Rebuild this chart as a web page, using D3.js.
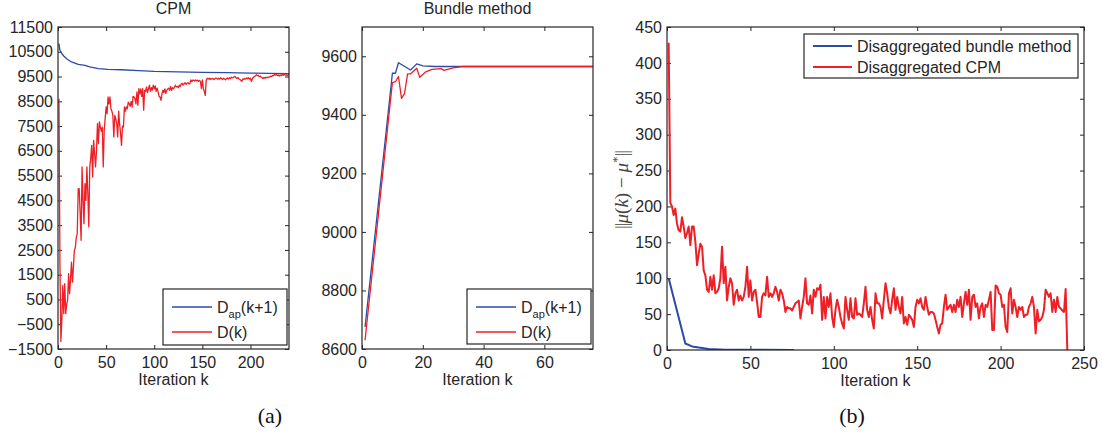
<!DOCTYPE html>
<html>
<head>
<meta charset="utf-8">
<script src="https://cdn.jsdelivr.net/npm/d3@7"></script>
<style>
  body { margin: 0; background: #fff; }
  svg text { font-family: "Liberation Sans", Arial, sans-serif; fill: #262626; }
</style>
</head>
<body>
<svg id="chart" width="1102" height="438"></svg>
<script>
// --- (a) left: CPM, dual value D(k) per iteration k = 1..240
const cpmD = [
  8600, 2000, -1200, -300, 1070, -70, 1140, -70, 300, 465,
  1540, 735, 1300, 2010, 1200, 1800, 2480, 2600, 3000, 3160,
  4970, 4970, 4000, 2890, 5850, 4500, 3560, 5175, 4500, 5850,
  4800, 3430, 5850, 6200, 6720, 5440, 6925, 6400, 5850, 6500,
  7600, 6790, 7665, 7460, 7300, 7460, 5850, 7330, 7800, 8270,
  8000, 8675, 8400, 8675, 8200, 8100, 7930, 7060, 7930, 7800,
  7600, 7060, 8100, 7600, 7200, 6720, 7500, 7460, 8270, 8100,
  8270, 8200, 8470, 8400, 8300, 8500, 8270, 8700, 8675, 8600,
  8400, 8880, 8340, 9010, 8800, 9000, 8700, 9010, 8140, 8945,
  8900, 9080, 8850, 9000, 9150, 8900, 9050, 8950, 9150, 9000,
  9120, 8900, 9030, 8880, 8700, 8675, 8540, 8800, 8945, 8850,
  9000, 8820, 8950, 9000, 9030, 8944, 9100, 8945, 9050, 9000,
  9080, 9150, 9080, 9100, 9050, 9150, 9100, 9200, 9230, 9150,
  9200, 9250, 9180, 9230, 9250, 9200, 9215, 9365, 9300, 9350,
  9350, 9320, 9365, 9330, 9350, 9310, 9340, 9300, 9010, 9365,
  9010, 8900, 8740, 9350, 9430, 9400, 9430, 9380, 9420, 9400,
  9420, 9380, 9410, 9440, 9420, 9390, 9430, 9400, 9450, 9410,
  9380, 9430, 9400, 9365, 9420, 9440, 9400, 9450, 9420, 9470,
  9440, 9460, 9485, 9500, 9450, 9420, 9460, 9400, 9380, 9350,
  9310, 9400, 9380, 9420, 9400, 9440, 9410, 9450, 9400, 9430,
  9300, 9420, 9460, 9500, 9520, 9570, 9540, 9550, 9500, 9520,
  9480, 9450, 9420, 9460, 9430, 9470, 9450, 9480, 9460, 9485,
  9520, 9500, 9550, 9540, 9580, 9560, 9580, 9540, 9560, 9520,
  9560, 9540, 9580, 9550, 9600, 9560, 9570, 9540, 9560, 9600
];
// smooth upper estimate D_ap(k+1), read at these iterations
const cpmDapIter = [1, 2, 4, 6, 9, 14, 21, 28, 33, 42, 52, 66, 84, 100, 125, 150, 175, 200, 220, 240];
const cpmDap = [10830, 10560, 10420, 10330, 10220, 10090, 9990, 9950, 9890, 9820, 9790, 9775, 9740, 9710, 9690, 9670, 9655, 9640, 9630, 9620];

// --- (a) right: bundle method
const bunDapIter = [1, 10, 11, 12, 16, 18, 20, 24, 76];
const bunDap = [8675, 9542, 9542, 9578, 9553, 9574, 9567, 9565, 9565];
const bunDIter = [1, 10, 11, 12, 13, 14, 15, 16, 18, 19, 21, 23, 26, 27, 30, 33, 76];
const bunD = [8630, 9510, 9513, 9531, 9456, 9473, 9540, 9540, 9559, 9528, 9547, 9555, 9558, 9552, 9560, 9565, 9565];

// --- (b): ||mu(k) - mu*||
const disBundleIter = [1, 11, 15, 19, 25, 35, 76];
const disBundle = [100, 9, 5, 3.5, 1.5, 0.5, 0];
// disaggregated CPM, k = 1..240
const disCpm = [
  428, 205, 200, 188, 197, 176, 167, 165, 185, 172,
  156, 163, 172, 146, 172, 172, 151, 118, 134, 148,
  144, 111, 104, 84, 81, 102, 84, 104, 79, 81,
  86, 100, 144, 93, 116, 69, 88, 100, 93, 63,
  79, 84, 69, 76, 69, 74, 88, 116, 74, 97,
  69, 81, 84, 67, 46, 46, 74, 79, 76, 102,
  74, 79, 74, 79, 88, 81, 69, 84, 79, 69,
  53, 60, 58, 58, 55, 60, 65, 67, 69, 44,
  60, 74, 100, 65, 63, 76, 51, 84, 74, 86,
  84, 91, 42, 74, 44, 74, 60, 79, 46, 32,
  56, 70, 60, 46, 37, 30, 74, 56, 42, 72,
  46, 44, 72, 49, 51, 49, 46, 65, 88, 56,
  46, 60, 42, 30, 79, 65, 65, 60, 44, 70,
  93, 79, 60, 51, 70, 86, 56, 74, 60, 51,
  74, 37, 46, 35, 49, 46, 42, 32, 60, 70,
  65, 72, 60, 56, 74, 60, 49, 53, 53, 51,
  42, 32, 23, 35, 37, 60, 77, 56, 60, 63,
  53, 63, 53, 70, 60, 74, 46, 65, 81, 63,
  84, 42, 74, 77, 60, 65, 44, 60, 65, 46,
  63, 60, 70, 81, 28, 28, 90, 88, 79, 77,
  60, 63, 32, 25, 79, 86, 51, 70, 60, 46,
  60, 56, 60, 46, 49, 49, 60, 65, 74, 60,
  23, 56, 40, 42, 46, 56, 84, 79, 74, 79,
  53, 70, 53, 74, 60, 58, 55, 53, 85, 0
];

const cpmYTicks = d3.range(-1500, 11501, 1000);
const cpmXTicks = [0, 50, 100, 150, 200];
const bunYTicks = [8600, 8800, 9000, 9200, 9400, 9600];
const bunXTicks = [0, 20, 40, 60];
const disYTicks = d3.range(0, 451, 50);
const disXTicks = [0, 50, 100, 150, 200, 250];

const BLUE = "#2c4ba8";
const RED = "#ee1f26";

const svg = d3.select("#chart");
const defs = svg.append("defs");

function zip(xs, ys) { return xs.map((x, i) => [x, ys[i]]); }
function byIndex(ys) { return ys.map((y, i) => [i + 1, y]); }

function panel(cfg) {
  const x = d3.scaleLinear().domain(cfg.xDomain).range([cfg.left, cfg.right]);
  const y = d3.scaleLinear().domain(cfg.yDomain).range([cfg.bottom, cfg.top]);
  const g = svg.append("g");
  const clipId = "clip-" + cfg.id;
  defs.append("clipPath").attr("id", clipId).append("rect")
    .attr("x", cfg.left).attr("y", cfg.top)
    .attr("width", cfg.right - cfg.left).attr("height", cfg.bottom - cfg.top);

  // axes, ticks pointing inwards, mirrored on top/right
  const styleAxis = a => {
    a.select(".domain").remove();
    a.selectAll("line").attr("stroke", "#262626");
    a.selectAll("text").attr("font-size", 16).attr("font-family", null).attr("fill", "#262626");
  };
  g.append("g").attr("transform", `translate(0,${cfg.bottom})`)
    .call(d3.axisBottom(x).tickValues(cfg.xTicks).tickSize(-4).tickPadding(8)).call(styleAxis);
  g.append("g").attr("transform", `translate(0,${cfg.top})`)
    .call(d3.axisTop(x).tickValues(cfg.xTicks).tickSize(-4).tickFormat("")).call(styleAxis);
  g.append("g").attr("transform", `translate(${cfg.left},0)`)
    .call(d3.axisLeft(y).tickValues(cfg.yTicks).tickSize(-4).tickPadding(5)
      .tickFormat(d => d < 0 ? "\u2212" + Math.abs(d) : d)).call(styleAxis);
  g.append("g").attr("transform", `translate(${cfg.right},0)`)
    .call(d3.axisRight(y).tickValues(cfg.yTicks).tickSize(-4).tickFormat("")).call(styleAxis);

  const line = d3.line().x(d => x(d[0])).y(d => y(d[1]));
  const lines = g.append("g").attr("clip-path", `url(#${clipId})`);
  cfg.series.forEach(s => {
    lines.append("path").datum(s.data)
      .attr("fill", "none").attr("stroke", s.color).attr("stroke-width", cfg.lw)
      .attr("stroke-linejoin", "round").attr("d", line);
  });

  g.append("rect").attr("x", cfg.left).attr("y", cfg.top)
    .attr("width", cfg.right - cfg.left).attr("height", cfg.bottom - cfg.top)
    .attr("fill", "none").attr("stroke", "#262626").attr("stroke-width", 1.2);

  if (cfg.title) {
    g.append("text").attr("x", (cfg.left + cfg.right) / 2).attr("y", 14)
      .attr("text-anchor", "middle").attr("font-size", 16).text(cfg.title);
  }
  g.append("text").attr("x", (cfg.left + cfg.right) / 2).attr("y", cfg.bottom + 36)
    .attr("text-anchor", "middle").attr("font-size", 16).text("Iteration k");

  // legend
  const L = cfg.legend;
  g.append("rect").attr("x", L.x).attr("y", L.y).attr("width", L.w).attr("height", L.h)
    .attr("fill", "#fff").attr("stroke", "#262626").attr("stroke-width", 1.2);
  cfg.series.forEach((s, i) => {
    const cy = L.y + L.row0 + i * L.step;
    g.append("line").attr("x1", L.x + L.lx0).attr("x2", L.x + L.lx1)
      .attr("y1", cy).attr("y2", cy).attr("stroke", s.color).attr("stroke-width", cfg.lw);
    const t = g.append("text").attr("x", L.x + L.tx).attr("y", cy + 6).attr("font-size", 16);
    s.label.forEach(part => {
      if (part.sub) {
        t.append("tspan").attr("dy", 5).attr("font-size", 11).text(part.t);
      } else {
        t.append("tspan").attr("dy", part.after ? -5 : 0).text(part.t);
      }
    });
  });
  return { x, y };
}

const dapLabel = [{ t: "D" }, { t: "ap", sub: true }, { t: "(k+1)", after: true }];
const dLabel = [{ t: "D(k)" }];

panel({
  id: "cpm", title: "CPM",
  left: 58, right: 289, top: 27, bottom: 349,
  xDomain: [0, 240], yDomain: [-1500, 11500],
  xTicks: cpmXTicks, yTicks: cpmYTicks, lw: 1.3,
  series: [
    { data: zip(cpmDapIter, cpmDap), color: BLUE, label: dapLabel },
    { data: byIndex(cpmD), color: RED, label: dLabel }
  ],
  legend: { x: 163, y: 289, w: 124, h: 56, row0: 18, step: 25, lx0: 9, lx1: 49, tx: 54 }
});

panel({
  id: "bundle", title: "Bundle method",
  left: 362, right: 593, top: 27, bottom: 349,
  xDomain: [0, 76], yDomain: [8600, 9700],
  xTicks: bunXTicks, yTicks: bunYTicks, lw: 1.3,
  series: [
    { data: zip(bunDapIter, bunDap), color: BLUE, label: dapLabel },
    { data: zip(bunDIter, bunD), color: RED, label: dLabel }
  ],
  legend: { x: 467, y: 289, w: 124, h: 55, row0: 18, step: 25, lx0: 9, lx1: 49, tx: 54 }
});

panel({
  id: "dis", title: null,
  left: 667, right: 1084, top: 27, bottom: 350,
  xDomain: [0, 250], yDomain: [0, 450],
  xTicks: disXTicks, yTicks: disYTicks, lw: 2,
  series: [
    { data: zip(disBundleIter, disBundle), color: BLUE, label: [{ t: "Disaggregated bundle method" }] },
    { data: byIndex(disCpm), color: RED, label: [{ t: "Disaggregated CPM" }] }
  ],
  legend: { x: 804, y: 34, w: 274, h: 44, row0: 12, step: 21, lx0: 9, lx1: 48, tx: 53 }
});

// y label of (b)
const yl = svg.append("text")
  .attr("transform", "translate(628,190) rotate(-90)")
  .attr("text-anchor", "middle")
  .attr("font-size", 19)
  .style("font-family", "'Liberation Serif', 'Times New Roman', serif")
  .style("fill", "#444");
yl.append("tspan").attr("letter-spacing", -1).text("||");
yl.append("tspan").attr("font-style", "italic").text("\u03bc");
yl.append("tspan").text("(");
yl.append("tspan").attr("font-style", "italic").text("k");
yl.append("tspan").text(") \u2212 ");
yl.append("tspan").attr("font-style", "italic").text("\u03bc");
yl.append("tspan").attr("dy", -7).attr("font-size", 13).text("*");
yl.append("tspan").attr("dy", 7).attr("letter-spacing", -1).text("||");

// sub-figure captions
[["(a)", 270], ["(b)", 852]].forEach(([t, cx]) => {
  svg.append("text").attr("x", cx).attr("y", 423).attr("text-anchor", "middle")
    .attr("font-size", 22)
    .style("font-family", "'Liberation Serif', 'Times New Roman', serif")
    .style("fill", "#111").text(t);
});
</script>
</body>
</html>
